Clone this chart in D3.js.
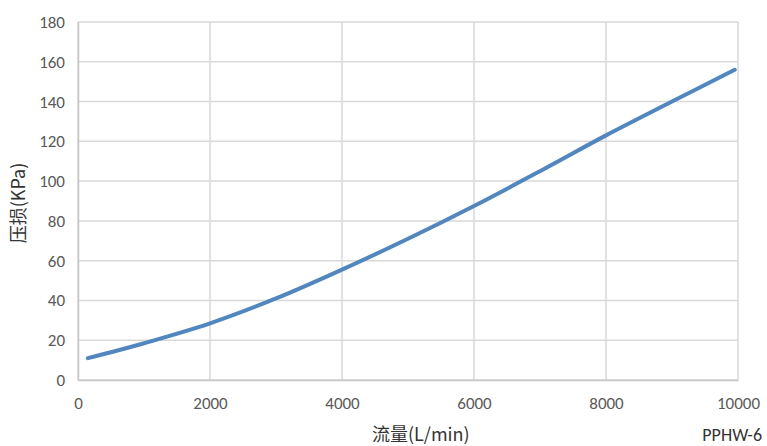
<!DOCTYPE html>
<html><head><meta charset="utf-8">
<script src="https://cdn.jsdelivr.net/npm/d3@7"></script>
<style>body{margin:0;background:#fff}svg{display:block}</style>
</head><body>
<svg id="c" width="767" height="446"></svg>
<script>
const flow = [150, 1000, 2000, 3000, 4000, 5000, 6000, 7000, 8000, 9000, 9950];
const pressure = [11, 18.5, 28.5, 41, 55.5, 71, 87.5, 105, 123, 140, 156];
const xTicks = [0, 2000, 4000, 6000, 8000, 10000];
const yTicks = [0, 20, 40, 60, 80, 100, 120, 140, 160, 180];
const xLabel = "流量(L/min)";
const yLabel = "压损(KPa)";
const note = "PPHW-6";

const svg = d3.select("#c");
const L = 78, R = 738, T = 22, B = 380;
const x = d3.scaleLinear().domain([0, 10000]).range([L, R]);
const y = d3.scaleLinear().domain([0, 180]).range([B, T]);
const font = "Calibri, 'Open Sans', 'Noto Sans', sans-serif";

// grid
svg.append("g").selectAll("line").data(yTicks).join("line")
  .attr("x1", L).attr("x2", R).attr("y1", d => y(d)).attr("y2", d => y(d))
  .attr("stroke", "#d9d9d9").attr("stroke-width", 1.5);
svg.append("g").selectAll("line").data(xTicks).join("line")
  .attr("y1", T).attr("y2", B).attr("x1", d => x(d)).attr("x2", d => x(d))
  .attr("stroke", "#d9d9d9").attr("stroke-width", 1.5);

// axes
const ax = svg.append("g").attr("transform", `translate(0,${B})`)
  .call(d3.axisBottom(x).tickValues(xTicks).tickSize(0).tickPadding(17).tickFormat(d3.format("d")));
const ay = svg.append("g").attr("transform", `translate(${L},0)`)
  .call(d3.axisLeft(y).tickValues(yTicks).tickSize(0).tickPadding(13));
[ax, ay].forEach(g => {
  g.select(".domain").attr("stroke", "#c8c8c8").attr("stroke-width", 1.5);
  g.selectAll("text").attr("fill", "#595959").attr("font-size", 17).attr("font-family", font);
});

// line
svg.append("path").datum(d3.zip(flow, pressure))
  .attr("fill", "none").attr("stroke", "#5186be").attr("stroke-width", 4)
  .attr("stroke-linecap", "round")
  .attr("d", d3.line().x(d => x(d[0])).y(d => y(d[1])).curve(d3.curveCatmullRom));

// labels
svg.append("text").attr("x", 372).attr("y", 441).text(xLabel)
  .attr("font-size", 18).attr("fill", "#333").attr("font-family", "'Noto Sans CJK SC', sans-serif");
svg.append("text").attr("x", 762).attr("y", 441).attr("text-anchor", "end").text(note)
  .attr("font-size", 18).attr("fill", "#333").attr("font-family", font);
svg.append("text").attr("transform", "translate(25,203) rotate(-90)").attr("text-anchor", "middle").text(yLabel)
  .attr("font-size", 18).attr("fill", "#333").attr("font-family", "'Noto Sans CJK SC', sans-serif");
</script>
</body></html>
